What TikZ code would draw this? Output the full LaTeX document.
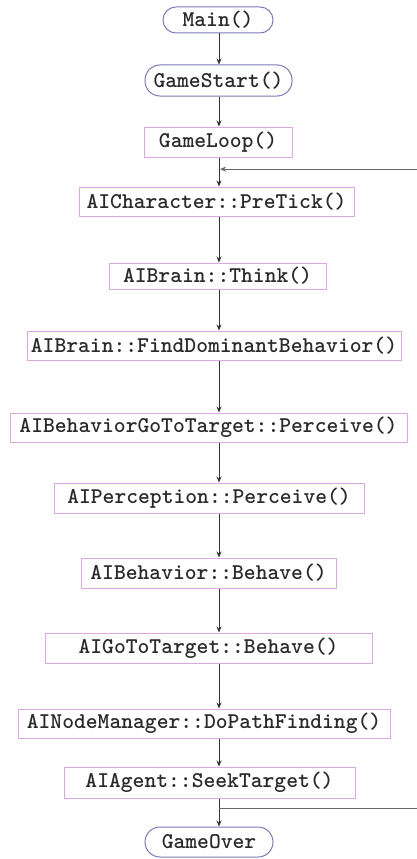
\documentclass[tikz,border=0pt]{standalone}
\usetikzlibrary{arrows.meta,calc}
\definecolor{boxpink}{HTML}{DCA8E4}
\definecolor{termblue}{HTML}{7C7CB8}
\definecolor{txtgray}{HTML}{2A2A2A}
\definecolor{linegray}{HTML}{333333}
\begin{document}
\begin{tikzpicture}[x=1pt,y=-1pt,
  every node/.style={font=\ttfamily\bfseries\fontsize{22.5}{24}\selectfont, text=txtgray, inner sep=0pt, align=center},
  procbox/.style={draw=boxpink, line width=1pt, rectangle},
  termbox/.style={draw=termblue, line width=1pt, rounded corners=13pt},
  flow/.style={draw=linegray, line width=0.9pt, -{Stealth[length=6pt,width=5pt]}},
  plainline/.style={draw=linegray!75, line width=0.9pt}]
\useasboundingbox (0,0) rectangle (417,859);
\fill[white] (0,0) rectangle (417,859);
\coordinate (X) at (219,0);
\coordinate (E) at (417,0);

\node[termbox, minimum width=110pt, minimum height=26pt] (main) at (218,20) {Main()};
\node[termbox, minimum width=147pt, minimum height=31pt, rounded corners=15pt] (start) at (218.5,80.5) {GameStart()};
\node[procbox, minimum width=148pt, minimum height=30pt] (loop) at (218,142) {GameLoop()};
\node[procbox, minimum width=275pt, minimum height=29pt] (pretick) at (216.5,201.5) {AICharacter::PreTick()};
\node[procbox, minimum width=217pt, minimum height=26pt] (think) at (217.5,276) {AIBrain::Think()};
\node[procbox, minimum width=374pt, minimum height=29pt] (dom) at (214,345.5) {AIBrain::FindDominantBehavior()};
\node[procbox, minimum width=397pt, minimum height=29pt] (bperc) at (208.5,427.5) {AIBehaviorGoToTarget::Perceive()};
\node[procbox, minimum width=310pt, minimum height=30pt] (perc) at (209,498) {AIPerception::Perceive()};
\node[procbox, minimum width=255pt, minimum height=30pt] (behave) at (208.5,573) {AIBehavior::Behave()};
\node[procbox, minimum width=327pt, minimum height=30pt] (gbehave) at (208.5,648) {AIGoToTarget::Behave()};
\node[procbox, minimum width=372pt, minimum height=29pt] (path) at (204,723.5) {AINodeManager::DoPathFinding()};
\node[procbox, minimum width=291pt, minimum height=31pt] (seek) at (209.5,782.5) {AIAgent::SeekTarget()};
\node[termbox, minimum width=128pt, minimum height=30pt, rounded corners=15pt] (over) at (209,842) {GameOver};

\draw[flow] (main.south -| X) -- (start.north -| X);
\draw[flow] (start.south -| X) -- (loop.north -| X);
\draw[flow] (loop.south -| X) -- (pretick.north -| X);
\draw[flow] (pretick.south -| X) -- (think.north -| X);
\draw[flow] (think.south -| X) -- (dom.north -| X);
\draw[flow] (dom.south -| X) -- (bperc.north -| X);
\draw[flow] (bperc.south -| X) -- (perc.north -| X);
\draw[flow] (perc.south -| X) -- (behave.north -| X);
\draw[flow] (behave.south -| X) -- (gbehave.north -| X);
\draw[flow] (gbehave.south -| X) -- (path.north -| X);
\draw[flow] (path.south -| X) -- (seek.north -| X);
\draw[flow] (seek.south -| X) -- (over.north -| X);

\coordinate (backin) at ($(loop.south)!0.4!(pretick.north)$);
\coordinate (backout) at ($(seek.south)!0.35!(over.north)$);
\draw[plainline] (backout -| X) -- (backout -| E);
\draw[flow, linegray!75] (backin -| E) -- ([xshift=1pt]backin -| X);
\end{tikzpicture}
\end{document}
